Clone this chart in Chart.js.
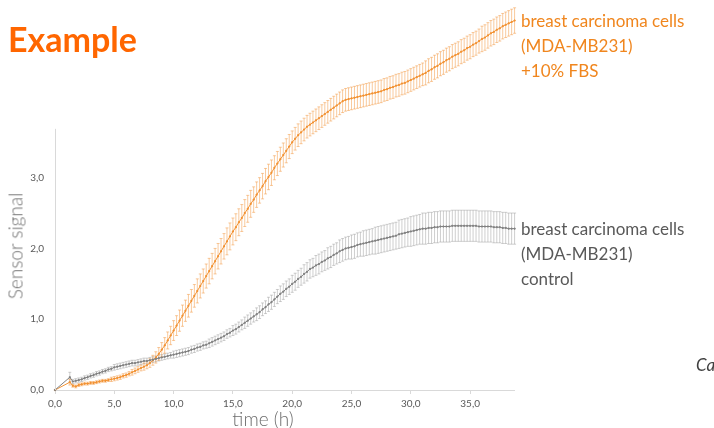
<!DOCTYPE html>
<html>
<head>
<meta charset="utf-8">
<script src="https://cdn.jsdelivr.net/npm/chart.js@4"></script>
<style>
  html, body { margin: 0; padding: 0; background: #fff; overflow: hidden; }
  #wrap { position: relative; width: 714px; height: 428px; overflow: hidden; font-family: Lato, "Open Sans", sans-serif; }
  #chart { position: absolute; left: 0; top: 0; }
  .txt { position: absolute; white-space: nowrap; }
  #title { left: 8px; top: 22px; font-size: 34px; line-height: 34px; font-weight: bold; color: #ff6600; }
  #lblFbs { left: 521px; top: 8px; font-size: 17px; line-height: 25px; color: #f0861e; }
  #lblCtrl { left: 521px; top: 216px; font-size: 17px; line-height: 25px; color: #595959; }
  #lblCa { left: 696px; top: 352px; font-size: 17px; line-height: 25px; font-style: italic; color: #404040; }
  #yTitle { left: 15px; top: 246px; font-size: 19px; line-height: 19px; font-weight: 300; color: #6e6e6e; transform: translate(-50%, -50%) rotate(-90deg); }
  #xTitle { left: 263px; top: 409px; font-size: 19px; line-height: 19px; font-weight: 300; color: #6e6e6e; transform: translateX(-50%); }
</style>
</head>
<body>
<div id="wrap">
  <canvas id="chart" width="714" height="428"></canvas>
  <div class="txt" id="title">Example</div>
  <div class="txt" id="lblFbs">breast carcinoma cells<br>(MDA-MB231)<br>+10% FBS</div>
  <div class="txt" id="lblCtrl">breast carcinoma cells<br>(MDA-MB231)<br>control</div>
  <div class="txt" id="lblCa">Ca</div>
  <div class="txt" id="yTitle">Sensor signal</div>
  <div class="txt" id="xTitle">time (h)</div>
</div>
<script>
// --- data (time in hours, sensor signal) ---
const timeH = [
    0, 1.25, 1.5, 1.75,
    2, 2.25, 2.5, 2.75,   3, 3.25, 3.5, 3.75,   4, 4.25, 4.5, 4.75,
    5, 5.25, 5.5, 5.75,   6, 6.25, 6.5, 6.75,   7, 7.25, 7.5, 7.75,
    8, 8.25, 8.5, 8.75,   9, 9.25, 9.5, 9.75,   10, 10.25, 10.5, 10.75,
    11, 11.25, 11.5, 11.75,   12, 12.25, 12.5, 12.75,   13, 13.25, 13.5, 13.75,
    14, 14.25, 14.5, 14.75,   15, 15.25, 15.5, 15.75,   16, 16.25, 16.5, 16.75,
    17, 17.25, 17.5, 17.75,   18, 18.25, 18.5, 18.75,   19, 19.25, 19.5, 19.75,
    20, 20.25, 20.5, 20.75,   21, 21.25, 21.5, 21.75,   22, 22.25, 22.5, 22.75,
    23, 23.25, 23.5, 23.75,   24, 24.25, 24.5, 24.75,   25, 25.25, 25.5, 25.75,
    26, 26.25, 26.5, 26.75,   27, 27.25, 27.5, 27.75,   28, 28.25, 28.5, 28.75,
    29, 29.25, 29.5, 29.75,   30, 30.25, 30.5, 30.75,   31, 31.25, 31.5, 31.75,
    32, 32.25, 32.5, 32.75,   33, 33.25, 33.5, 33.75,   34, 34.25, 34.5, 34.75,
    35, 35.25, 35.5, 35.75,   36, 36.25, 36.5, 36.75,   37, 37.25, 37.5, 37.75,
    38, 38.25, 38.5, 38.75
];

// +10% FBS (orange)
const fbsMean = [
    0, 0.11, 0.06, 0.05,
    0.07, 0.08, 0.09, 0.09,   0.10, 0.10, 0.11, 0.12,   0.13, 0.13, 0.14, 0.15,
    0.16, 0.17, 0.18, 0.20,   0.21, 0.23, 0.25, 0.27,   0.29, 0.31, 0.33, 0.35,
    0.38, 0.42, 0.46, 0.51,   0.57, 0.63, 0.70, 0.77,   0.84, 0.91, 0.98, 1.05,
    1.12, 1.19, 1.26, 1.33,   1.40, 1.47, 1.54, 1.61,   1.68, 1.75, 1.82, 1.89,
    1.96, 2.03, 2.10, 2.17,   2.24, 2.30, 2.37, 2.43,   2.50, 2.56, 2.63, 2.69,
    2.76, 2.82, 2.88, 2.95,   3.01, 3.07, 3.14, 3.20,   3.26, 3.32, 3.38, 3.44,
    3.50, 3.55, 3.60, 3.64,   3.68, 3.72, 3.75, 3.78,   3.81, 3.84, 3.87, 3.90,
    3.93, 3.96, 3.99, 4.02,   4.05, 4.08, 4.10, 4.11,   4.12, 4.13, 4.14, 4.15,
    4.16, 4.17, 4.18, 4.19,   4.20, 4.21, 4.22, 4.24,   4.25, 4.27, 4.28, 4.30,
    4.31, 4.33, 4.34, 4.36,   4.38, 4.40, 4.42, 4.44,   4.46, 4.48, 4.51, 4.53,
    4.56, 4.58, 4.61, 4.63,   4.66, 4.68, 4.71, 4.73,   4.75, 4.78, 4.80, 4.83,
    4.85, 4.88, 4.90, 4.93,   4.96, 4.98, 5.01, 5.04,   5.06, 5.09, 5.11, 5.14,
    5.16, 5.18, 5.20, 5.22
];
const fbsErr = [
    0, 0.04, 0.02, 0.02,
    0.02, 0.02, 0.02, 0.02,   0.02, 0.02, 0.02, 0.02,   0.02, 0.02, 0.02, 0.03,
    0.03, 0.03, 0.03, 0.03,   0.03, 0.03, 0.04, 0.04,   0.04, 0.04, 0.05, 0.05,
    0.06, 0.07, 0.08, 0.09,   0.10, 0.11, 0.12, 0.13,   0.14, 0.14, 0.15, 0.15,
    0.15, 0.16, 0.16, 0.16,   0.17, 0.17, 0.17, 0.17,   0.18, 0.18, 0.18, 0.18,
    0.18, 0.18, 0.19, 0.19,   0.19, 0.19, 0.19, 0.19,   0.19, 0.19, 0.19, 0.18,
    0.18, 0.18, 0.18, 0.18,   0.18, 0.18, 0.17, 0.17,   0.17, 0.17, 0.17, 0.17,
    0.16, 0.16, 0.16, 0.16,   0.16, 0.16, 0.16, 0.16,   0.16, 0.16, 0.16, 0.16,
    0.16, 0.16, 0.16, 0.16,   0.16, 0.16, 0.16, 0.16,   0.16, 0.16, 0.16, 0.16,
    0.16, 0.16, 0.16, 0.16,   0.16, 0.16, 0.16, 0.16,   0.16, 0.16, 0.16, 0.16,
    0.16, 0.16, 0.16, 0.16,   0.16, 0.16, 0.16, 0.16,   0.16, 0.17, 0.17, 0.17,
    0.17, 0.17, 0.17, 0.17,   0.17, 0.17, 0.17, 0.17,   0.17, 0.17, 0.17, 0.17,
    0.17, 0.17, 0.17, 0.17,   0.18, 0.18, 0.18, 0.18,   0.18, 0.18, 0.18, 0.18,
    0.18, 0.18, 0.18, 0.18
];

// control (grey)
const ctrlMean = [
    0, 0.18, 0.12, 0.13,
    0.14, 0.15, 0.17, 0.18,   0.20, 0.21, 0.23, 0.24,   0.26, 0.27, 0.29, 0.30,
    0.32, 0.33, 0.34, 0.35,   0.36, 0.37, 0.38, 0.38,   0.39, 0.40, 0.41, 0.41,
    0.42, 0.43, 0.44, 0.45,   0.46, 0.47, 0.48, 0.49,   0.50, 0.51, 0.52, 0.53,
    0.54, 0.55, 0.57, 0.58,   0.60, 0.61, 0.63, 0.64,   0.66, 0.68, 0.70, 0.72,
    0.74, 0.76, 0.79, 0.81,   0.84, 0.86, 0.89, 0.92,   0.95, 0.98, 1.01, 1.04,
    1.07, 1.10, 1.14, 1.17,   1.21, 1.24, 1.28, 1.32,   1.36, 1.39, 1.43, 1.46,
    1.50, 1.53, 1.57, 1.60,   1.64, 1.67, 1.71, 1.73,   1.76, 1.78, 1.81, 1.83,
    1.86, 1.88, 1.91, 1.93,   1.96, 1.98, 2.00, 2.01,   2.02, 2.03, 2.05, 2.06,
    2.07, 2.08, 2.09, 2.10,   2.11, 2.12, 2.13, 2.14,   2.15, 2.16, 2.17, 2.18,
    2.20, 2.21, 2.22, 2.23,   2.24, 2.25, 2.26, 2.27,   2.28, 2.28, 2.29, 2.29,
    2.30, 2.30, 2.31, 2.31,   2.31, 2.31, 2.32, 2.32,   2.32, 2.32, 2.32, 2.32,
    2.32, 2.32, 2.32, 2.31,   2.31, 2.31, 2.31, 2.31,   2.30, 2.30, 2.30, 2.29,
    2.29, 2.28, 2.28, 2.28
];
const ctrlErr = [
    0, 0.07, 0.03, 0.03,
    0.03, 0.03, 0.03, 0.03,   0.03, 0.03, 0.03, 0.03,   0.03, 0.03, 0.03, 0.03,
    0.04, 0.04, 0.04, 0.04,   0.04, 0.04, 0.04, 0.04,   0.04, 0.04, 0.04, 0.04,
    0.04, 0.04, 0.04, 0.04,   0.04, 0.04, 0.04, 0.04,   0.05, 0.05, 0.05, 0.05,
    0.05, 0.05, 0.05, 0.05,   0.05, 0.05, 0.05, 0.05,   0.06, 0.06, 0.06, 0.06,
    0.06, 0.06, 0.06, 0.06,   0.07, 0.07, 0.07, 0.07,   0.08, 0.08, 0.08, 0.08,
    0.09, 0.09, 0.09, 0.09,   0.10, 0.10, 0.10, 0.10,   0.11, 0.11, 0.11, 0.11,
    0.12, 0.12, 0.12, 0.12,   0.13, 0.13, 0.13, 0.13,   0.14, 0.14, 0.14, 0.14,
    0.15, 0.15, 0.15, 0.15,   0.16, 0.16, 0.16, 0.16,   0.17, 0.17, 0.17, 0.17,
    0.18, 0.18, 0.18, 0.18,   0.19, 0.19, 0.19, 0.19,   0.19, 0.19, 0.19, 0.19,
    0.20, 0.20, 0.20, 0.20,   0.21, 0.21, 0.21, 0.21,   0.22, 0.22, 0.22, 0.22,
    0.22, 0.22, 0.22, 0.22,   0.22, 0.22, 0.22, 0.22,   0.22, 0.22, 0.22, 0.22,
    0.22, 0.22, 0.22, 0.22,   0.22, 0.22, 0.22, 0.22,   0.22, 0.22, 0.22, 0.22,
    0.22, 0.22, 0.22, 0.22
];

const xTicks = [0, 5, 10, 15, 20, 25, 30, 35];
const yTicks = [0, 1, 2, 3];
const xMax = 38.7;
const yMax = 5.27;      // data runs above the plot top, drawn unclipped
const yAxisTop = 3.69;  // where the visible y axis line stops

const toPoints = (ys) => ys.map((v, i) => ({ x: timeH[i], y: v }));
const fmt = (v) => Number(v).toFixed(1).replace('.', ',');

// error bars drawn through the chart scales
const errorBars = {
    id: 'errorBars',
    beforeDatasetsDraw(chart) {
        const { ctx, scales: { x, y } } = chart;
        ctx.save();
        chart.data.datasets.forEach((ds) => {
            ctx.strokeStyle = ds.errColor;
            ctx.lineWidth = 1;
            ds.data.forEach((p, i) => {
                const e = ds.errors[i];
                if (!e) return;
                const px = x.getPixelForValue(p.x);
                const top = y.getPixelForValue(p.y + e);
                const bot = y.getPixelForValue(p.y - e);
                ctx.beginPath();
                ctx.moveTo(px, top); ctx.lineTo(px, bot);
                ctx.moveTo(px - 1.5, top); ctx.lineTo(px + 1.5, top);
                ctx.moveTo(px - 1.5, bot); ctx.lineTo(px + 1.5, bot);
                ctx.stroke();
            });
        });
        ctx.restore();
    },
    afterDraw(chart) {
        // short y axis line, from 0 up to yAxisTop
        const { ctx, scales: { y } } = chart;
        const lx = Math.round(chart.chartArea.left) + 0.5;
        ctx.save();
        ctx.strokeStyle = '#d9d9d9';
        ctx.lineWidth = 1;
        ctx.beginPath();
        ctx.moveTo(lx, y.getPixelForValue(0));
        ctx.lineTo(lx, y.getPixelForValue(yAxisTop));
        ctx.stroke();
        ctx.restore();
    }
};

new Chart(document.getElementById('chart'), {
    type: 'line',
    data: {
        datasets: [
            {
                label: 'control',
                data: toPoints(ctrlMean),
                errors: ctrlErr,
                errColor: 'rgba(160,160,160,0.5)',
                borderColor: '#808080',
                backgroundColor: '#8c8c8c',
                borderWidth: 1,
                pointRadius: 0.8,
                pointStyle: 'rect',
                tension: 0,
                clip: false
            },
            {
                label: '+10% FBS',
                data: toPoints(fbsMean),
                errors: fbsErr,
                errColor: 'rgba(244,150,60,0.5)',
                borderColor: '#f29233',
                backgroundColor: '#f29233',
                borderWidth: 1,
                pointRadius: 0.8,
                pointStyle: 'rect',
                tension: 0,
                clip: false
            }
        ]
    },
    options: {
        responsive: false,
        animation: false,
        layout: { padding: { left: 0, right: 200, top: 0, bottom: 0 } },
        plugins: { legend: { display: false }, tooltip: { enabled: false } },
        scales: {
            x: {
                type: 'linear',
                min: 0,
                max: xMax,
                afterBuildTicks: (s) => { s.ticks = xTicks.map(v => ({ value: v })); },
                afterFit: (s) => { s.height = 38; },
                border: { color: '#d9d9d9', width: 1 },
                grid: { drawOnChartArea: false, color: '#d9d9d9', tickLength: 4 },
                ticks: { callback: fmt, color: '#595959', font: { family: 'Lato', size: 10 }, padding: 4, maxRotation: 0 }
            },
            y: {
                min: 0,
                max: yMax,
                afterBuildTicks: (s) => { s.ticks = yTicks.map(v => ({ value: v })); },
                afterFit: (s) => { s.width = 55; },
                border: { display: false },
                grid: { display: false, drawTicks: false },
                ticks: { callback: fmt, color: '#595959', font: { family: 'Lato', size: 10 }, padding: 11 }
            }
        }
    },
    plugins: [errorBars]
});
</script>
</body>
</html>
